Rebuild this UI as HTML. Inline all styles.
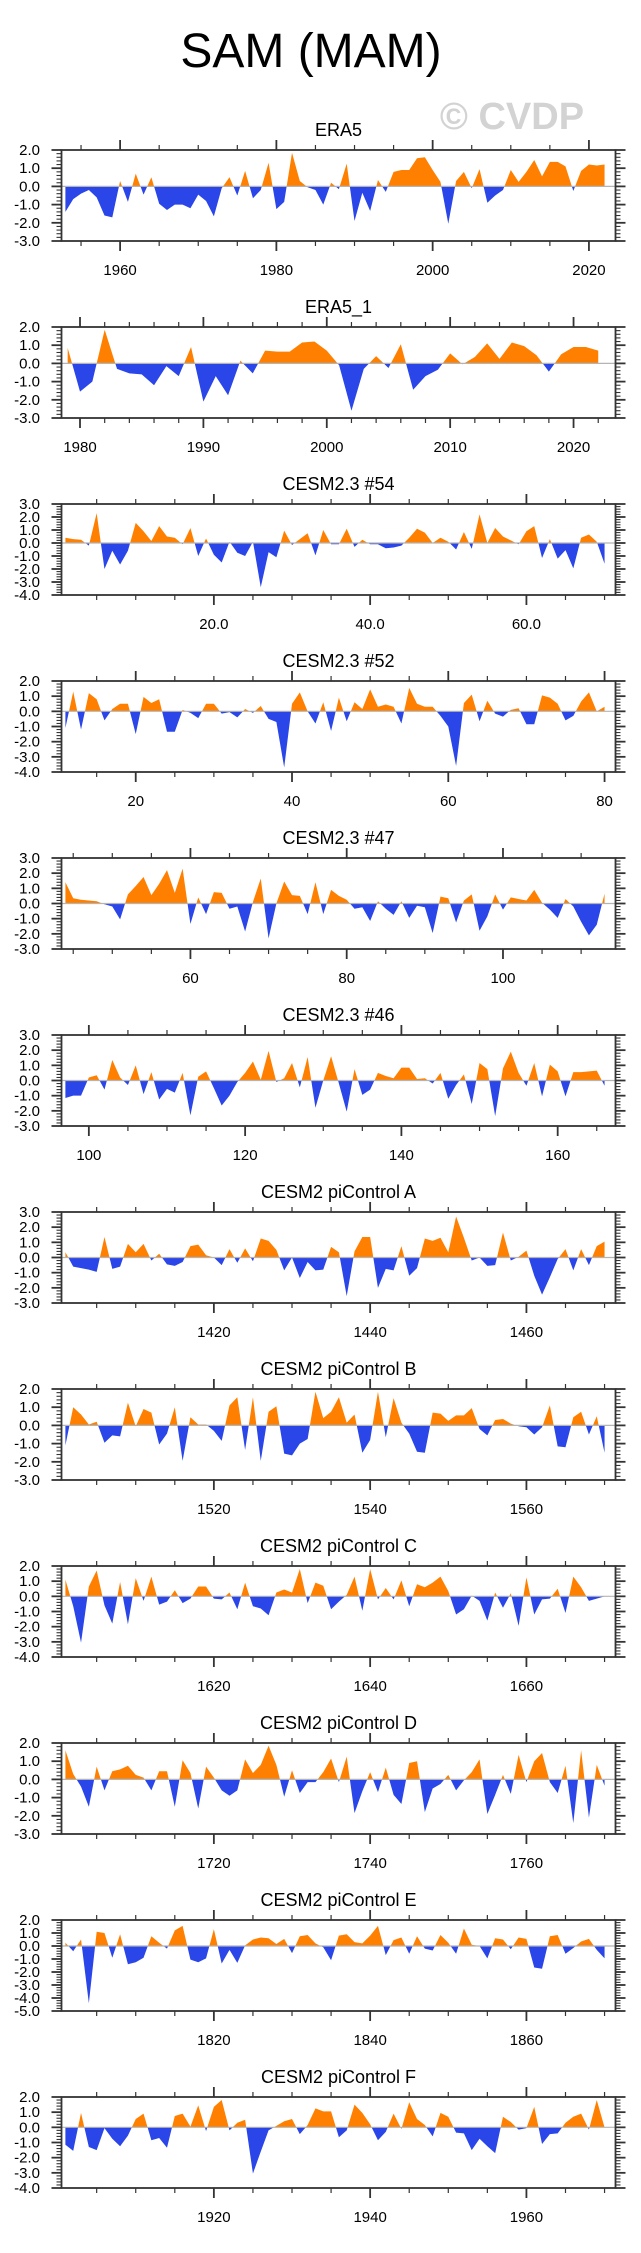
<!DOCTYPE html>
<html><head><meta charset="utf-8">
<style>
html,body{margin:0;padding:0;background:#fff;}
svg{display:block;font-family:"Liberation Sans",Arial,sans-serif;}
</style></head>
<body>
<svg id="chart" width="641" height="2253" viewBox="0 0 641 2253" xmlns="http://www.w3.org/2000/svg">
<text x="311" y="67" font-size="48" text-anchor="middle" fill="#000">SAM (MAM)</text>
<text x="512" y="129" font-size="38" font-weight="bold" text-anchor="middle" fill="#d3d3d3">© CVDP</text>
</svg>
<script>
const titles = ["ERA5","ERA5_1","CESM2.3 #54","CESM2.3 #52","CESM2.3 #47","CESM2.3 #46","CESM2 piControl A","CESM2 piControl B","CESM2 piControl C","CESM2 piControl D","CESM2 piControl E","CESM2 piControl F"];
const firstYears = [1953,1979,1,11,44,97,1401,1501,1601,1701,1801,1901];
const yMaxs = [2,2,3,2,3,3,3,2,2,2,2,2];
const yMins = [-3,-3,-4,-4,-3,-3,-3,-3,-4,-3,-5,-4];
const majorSteps = [20,10,20,20,20,20,20,20,20,20,20,20];
const minorSteps = [5,2,5,5,5,5,5,5,5,5,5,5];
const labelDecimals = [0,0,1,0,0,0,0,0,0,0,0,0];

const era5 = [-1.4,-0.7,-0.4,-0.2,-0.6,-1.6,-1.7,0.3,-0.85,0.7,-0.45,0.5,-0.95,-1.3,-1.0,-1.0,-1.2,-0.45,-0.8,-1.65,-0.1,0.5,-0.5,0.85,-0.65,-0.2,1.3,-1.25,-0.85,1.85,0.3,-0.05,-0.2,-1.0,0.2,-0.15,1.25,-1.9,-0.35,-1.35,0.35,-0.3,0.8,0.9,0.9,1.55,1.6,0.9,0.25,-2.05,0.3,0.8,-0.1,0.95,-0.9,-0.5,-0.2,0.9,0.25,0.8,1.45,0.55,1.35,1.35,1.1,-0.25,0.85,1.2,1.15,1.2];
const era5b = [0.85,-1.55,-1.0,1.85,-0.3,-0.55,-0.6,-1.2,-0.15,-0.7,0.9,-2.1,-0.7,-1.75,0.15,-0.55,0.7,0.65,0.65,1.15,1.2,0.7,-0.1,-2.6,-0.3,0.4,-0.25,1.05,-1.45,-0.7,-0.35,0.55,-0.05,0.35,1.1,0.25,1.15,0.95,0.45,-0.45,0.5,0.9,0.9,0.7];
const m54 = [0.4,0.3,0.25,-0.2,2.3,-2.0,-0.6,-1.65,-0.6,1.55,0.9,0.15,1.3,0.5,0.4,-0.1,1.15,-1.0,0.35,-0.9,-1.5,0.1,-0.75,-1.0,0.1,-3.4,-0.7,-1.1,0.95,-0.15,0.3,0.75,-0.95,1.0,-0.1,-0.1,1.1,-0.3,0.25,-0.1,-0.1,-0.4,-0.35,-0.2,0.4,1.1,0.8,0.0,0.4,0.1,-0.5,0.85,-0.45,2.2,0.0,1.15,0.5,0.2,-0.1,0.9,1.3,-1.15,0.3,-1.2,-0.55,-1.95,0.4,0.65,0.1,-1.6];
const m52 = [-1.1,1.3,-1.2,1.2,0.8,-0.6,0.15,0.5,0.5,-1.5,0.95,0.55,0.8,-1.35,-1.35,0.1,-0.1,-0.45,0.5,0.5,-0.15,-0.05,-0.4,0.15,-0.1,0.35,-0.5,-0.7,-3.7,0.5,1.25,0.0,-0.8,0.6,-1.3,0.9,-0.65,0.6,0.15,1.45,0.3,0.45,0.3,-0.8,1.55,0.5,0.3,0.3,-0.3,-1.0,-3.6,0.55,1.1,-0.65,0.7,-0.15,-0.35,0.1,0.2,-0.85,-0.85,1.05,0.9,0.5,-0.6,-0.3,0.65,1.25,0.0,0.3];
const m47 = [1.4,0.35,0.25,0.2,0.15,-0.05,-0.2,-1.05,0.6,1.15,1.75,0.55,1.3,2.2,0.7,2.3,-1.35,0.4,-0.7,0.75,0.7,-0.35,-0.2,-1.85,0.1,1.65,-2.3,0.0,1.45,0.55,0.5,-0.7,1.4,-0.7,0.9,0.5,0.25,-0.35,-0.25,-1.15,0.15,-0.35,-0.75,0.15,-0.95,-0.15,-0.25,-1.95,0.45,0.35,-1.25,0.2,0.6,-1.8,-0.85,0.6,-0.4,0.4,0.3,0.2,0.9,0.05,-0.4,-0.95,0.3,-0.2,-1.2,-2.1,-1.4,0.65];
const m46 = [-1.15,-1.0,-1.0,0.2,0.35,-0.6,1.35,0.2,-0.3,1.0,-0.9,0.55,-1.25,-0.55,-0.8,0.5,-2.3,0.25,0.6,-0.5,-1.65,-1.0,-0.1,0.5,1.25,0.05,1.95,-0.1,0.15,1.15,-0.45,1.55,-1.8,0.0,1.6,-0.2,-2.05,0.75,-0.95,-0.6,0.5,0.3,0.15,0.85,0.85,0.1,0.15,-0.2,0.5,-1.2,-0.3,0.4,-1.55,1.15,0.75,-2.35,0.8,1.9,0.5,-0.35,1.15,-1.05,1.05,0.6,-1.05,0.55,0.55,0.6,0.65,-0.35];
const piA = [0.35,-0.6,-0.7,-0.8,-0.95,1.35,-0.75,-0.6,0.9,0.35,0.9,-0.2,0.25,-0.45,-0.55,-0.3,0.75,0.85,0.15,0.0,-0.5,0.55,-0.35,0.6,-0.25,1.25,1.1,0.5,-0.85,0.0,-1.35,-0.3,-0.85,-0.8,0.7,0.35,-2.55,0.4,1.35,1.35,-2.0,-0.75,-0.85,0.75,-1.2,-0.7,1.25,1.1,1.3,0.35,2.7,1.3,-0.2,0.0,-0.55,-0.5,1.65,-0.2,0.05,0.45,-1.2,-2.45,-1.3,-0.1,0.55,-0.85,0.55,-0.5,0.75,1.05];
const piB = [-1.1,1.0,0.6,0.05,0.2,-0.95,-0.55,-0.6,1.25,-0.05,0.9,0.7,-1.05,-0.45,1.0,-1.95,0.45,0.05,0.05,-0.3,-0.85,1.1,1.55,-1.35,1.55,-1.95,0.75,1.05,-1.55,-1.65,-1.0,-0.75,1.85,0.4,0.75,1.55,0.15,0.6,-1.5,-0.8,1.85,-0.65,1.5,0.15,-0.45,-1.45,-1.5,0.7,0.65,0.25,0.55,0.55,0.95,-0.2,-0.55,0.3,0.35,0.1,-0.05,-0.1,-0.5,-0.1,1.1,-1.15,-1.2,0.45,0.75,-0.5,0.5,-1.5];
const piC = [1.1,-0.65,-3.05,0.65,1.7,-0.6,-1.8,0.95,-1.85,1.2,-0.3,1.3,-0.55,-0.35,0.4,-0.45,-0.15,0.65,0.65,-0.15,-0.2,0.25,-0.85,0.9,-0.65,-0.8,-1.25,0.25,0.45,0.25,1.8,-0.45,0.9,0.7,-0.85,-0.35,0.1,1.3,-0.95,1.8,-0.2,0.55,-0.2,1.05,-0.65,0.8,0.6,0.9,1.3,0.35,-1.2,-0.85,0.05,-0.3,-1.6,0.25,-0.75,0.2,-1.95,1.25,-1.2,-0.2,-0.15,0.5,-1.1,1.3,0.6,-0.3,-0.15,0.0];
const piD = [1.6,0.3,-0.4,-1.5,0.7,-0.6,0.45,0.55,0.75,0.25,0.1,-0.6,0.45,0.45,-1.5,1.05,0.35,-1.6,0.7,0.1,-0.6,-0.9,-0.6,1.1,0.35,0.8,1.85,0.8,-0.95,0.5,-0.75,-0.15,-0.15,0.4,1.15,-0.15,1.25,-1.85,-0.65,0.4,-0.7,0.65,-0.85,-1.35,0.9,1.0,-1.8,-0.5,-0.25,0.25,-0.6,-0.05,0.4,1.1,-1.9,-0.85,0.25,-0.8,1.35,-0.15,1.0,1.45,-0.15,-0.75,0.75,-2.4,1.6,-2.1,0.8,-0.35];
const piE = [0.25,-0.4,0.5,-4.4,1.1,1.0,-0.9,0.9,-1.4,-1.25,-0.9,0.75,0.25,-0.2,1.2,1.55,-1.05,-1.25,-0.95,1.3,-1.35,-0.3,-1.3,0.05,0.5,0.65,0.6,0.15,0.55,-0.55,0.75,0.85,0.2,-0.1,-1.1,0.8,0.9,0.3,0.2,0.8,1.55,-0.7,0.45,0.65,-0.6,0.75,-0.2,-0.35,0.85,0.25,-0.6,1.35,0.1,0.0,-0.95,0.6,0.5,-0.25,0.65,0.55,-1.65,-1.75,0.75,0.85,-0.6,-0.15,0.35,0.55,-0.3,-0.95];
const piF = [-1.15,-1.55,0.95,-1.3,-1.5,-0.05,-0.75,-1.25,-0.55,0.55,0.9,-0.85,-0.7,-1.35,0.75,0.9,0.05,1.45,-0.25,1.35,1.8,-0.2,0.3,0.5,-3.05,-1.6,-0.2,0.1,0.4,0.55,-0.45,0.15,1.25,1.05,1.05,-0.65,-0.2,1.5,0.95,0.2,-0.85,-0.3,0.9,-0.1,1.65,0.55,0.15,-0.6,0.95,0.7,-0.35,-0.4,-1.5,-0.75,-1.25,-1.7,0.7,0.35,-0.15,-0.05,1.35,-1.1,-0.45,-0.4,0.3,0.7,0.9,-0.15,1.8,0.0];

const seriesList = [era5,era5b,m54,m52,m47,m46,piA,piB,piC,piD,piE,piF];

const NS = "http://www.w3.org/2000/svg";
const svg = document.getElementById('chart');
const PL = 61.5, PR = 615.5, TOP0 = 150, STEP = 177, PH = 91;
const AX = "#333";
function mk(tag, attrs, parent) {
  const e = document.createElementNS(NS, tag);
  for (const k in attrs) e.setAttribute(k, attrs[k]);
  (parent || svg).appendChild(e);
  return e;
}
seriesList.forEach((vals, p) => {
  const g = mk('g', {});
  
  
  const top = TOP0 + STEP * p, bot = top + PH;
  const first = firstYears[p], last = first + vals.length - 1;
  const xmin = first - 0.5, xmax = last + 1.4;
  const ymin = yMins[p], ymax = yMaxs[p];
  const xs = v => PL + (v - xmin) / (xmax - xmin) * (PR - PL);
  const ys = v => bot - (v - ymin) / (ymax - ymin) * PH;
  const y0 = ys(0);
  const t = mk('text', {x: (PL + PR) / 2, y: top - 14, 'font-size': 18, 'text-anchor': 'middle', fill: '#000'}, g);
  
  
  t.textContent = titles[p];
  const cid = 'c' + p;
  const defs = mk('defs', {}, g);
  const cpA = mk('clipPath', {id: cid + 'a'}, defs);
  mk('rect', {x: PL, y: top, width: PR - PL, height: y0 - top}, cpA);
  const cpB = mk('clipPath', {id: cid + 'b'}, defs);
  mk('rect', {x: PL, y: y0, width: PR - PL, height: bot - y0}, cpB);
  let d = 'M' + xs(first) + ',' + y0;
  vals.forEach((v, i) => { d += ' L' + xs(first + i).toFixed(2) + ',' + ys(v).toFixed(2); });
  d += ' L' + xs(last) + ',' + y0 + ' Z';
  const pos = mk('path', {d: d, fill: '#ff8000', 'clip-path': 'url(#' + cid + 'a)'}, g);
  
  
  const neg = mk('path', {d: d, fill: '#2a45e8', 'clip-path': 'url(#' + cid + 'b)'}, g);
  
  
  const zl = mk('line', {x1: PL, x2: PR, y1: y0, y2: y0, stroke: '#b4b4b4', 'stroke-width': 1.2}, g);
  
  
  const fr = mk('rect', {x: PL, y: top, width: PR - PL, height: PH, fill: 'none', stroke: AX, 'stroke-width': 1.8}, g);
  
  
  const ms = minorSteps[p], Ms = majorSteps[p];
  for (let v = Math.ceil(xmin / ms) * ms; v <= xmax; v += ms) {
    const major = Math.abs(v / Ms - Math.round(v / Ms)) < 1e-6;
    const L = major ? 10 : 5, x = xs(v);
    mk('line', {x1: x, x2: x, y1: top, y2: top - L, stroke: AX, 'stroke-width': major ? 1.8 : 1.2}, g);
    mk('line', {x1: x, x2: x, y1: bot, y2: bot + L, stroke: AX, 'stroke-width': major ? 1.8 : 1.2}, g);
    if (major) {
      const lt = mk('text', {x: x, y: bot + 34, 'font-size': 15, 'text-anchor': 'middle', fill: '#000'}, g);
      
      
      lt.textContent = v.toFixed(labelDecimals[p]);
    }
  }
  for (let k = Math.round(ymin * 5); k <= Math.round(ymax * 5); k++) {
    const v = k / 5, major = k % 5 === 0, L = major ? 10 : 5, y = ys(v);
    mk('line', {x1: PL, x2: PL - L, y1: y, y2: y, stroke: AX, 'stroke-width': major ? 1.8 : 1.1}, g);
    mk('line', {x1: PR, x2: PR + L, y1: y, y2: y, stroke: AX, 'stroke-width': major ? 1.8 : 1.1}, g);
    if (major) {
      const lt = mk('text', {x: 40, y: y + 5, 'font-size': 15, 'text-anchor': 'end', fill: '#000'}, g);
      
      
      lt.textContent = v.toFixed(1);
    }
  }
});
</script>
</body></html>
